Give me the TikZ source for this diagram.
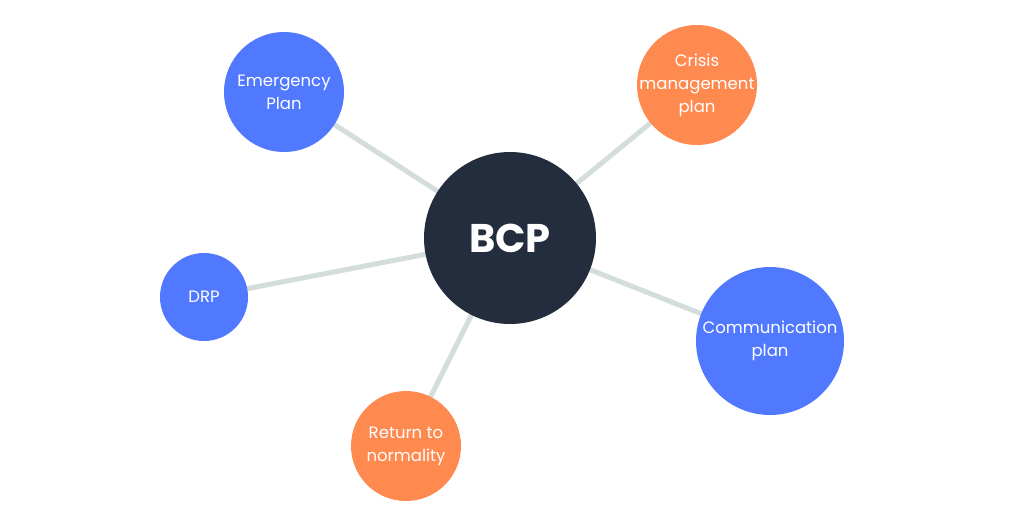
\documentclass[tikz,border=0pt]{standalone}
\usepackage{fontspec}
\setmainfont{Poppins}
\usetikzlibrary{backgrounds}
\definecolor{cblue}{HTML}{5079FF}
\definecolor{corange}{HTML}{FF8A50}
\definecolor{cdark}{HTML}{232D3D}
\definecolor{cline}{HTML}{D3DEDC}
\tikzset{
  bubble/.style={circle,inner sep=0pt,text=white,align=center,font=\fontsize{16.5}{23}\selectfont},
  link/.style={draw=cline,line width=5pt}
}
\begin{document}
\begin{tikzpicture}[x=1pt,y=-1pt]
\useasboundingbox (0,0) rectangle (1024,512);
\node[bubble,fill=cdark,minimum size=172pt,font=\fontsize{40}{44}\selectfont\bfseries] (bcp) at (510,238) {BCP};
\node[bubble,fill=cblue,minimum size=120pt] (emg) at (284,92) {Emergency\\Plan};
\node[bubble,fill=corange,minimum size=120pt,inner sep=-20pt] (cri) at (697,85) {Crisis\\management\\plan};
\node[bubble,fill=cblue,minimum size=88pt] (drp) at (204,297) {DRP};
\node[bubble,fill=cblue,minimum size=148pt] (com) at (770,341) {Communication\\plan};
\node[bubble,fill=corange,minimum size=110pt] (ret) at (406,446) {Return to\\normality};
\begin{scope}[on background layer]
\fill[white] (0,0) rectangle (1024,512);
\draw[link] (bcp.center) -- (emg.center);
\draw[link] (bcp.center) -- (cri.center);
\draw[link] (bcp.center) -- (drp.center);
\draw[link] (bcp.center) -- (com.center);
\draw[link] (bcp.center) -- (ret.center);
\end{scope}
\end{tikzpicture}
\end{document}
